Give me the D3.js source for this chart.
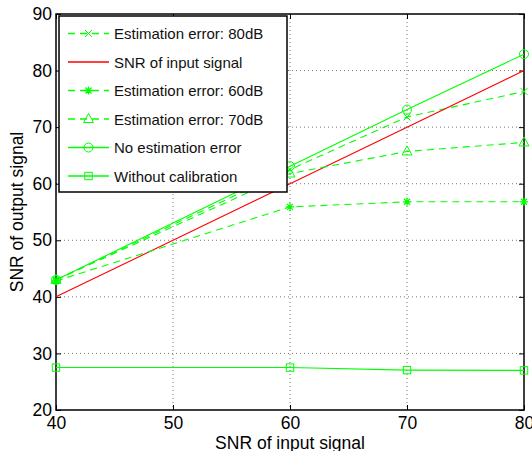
<!DOCTYPE html>
<html><head><meta charset="utf-8">
<script src="https://cdn.jsdelivr.net/npm/d3@7"></script>
<style>body{margin:0;background:#fff}svg{display:block}text{font-family:"Liberation Sans",Arial,sans-serif}</style>
</head><body><svg id="c" width="532" height="451"></svg>
<script>
const xValues = [40, 60, 70, 80];
const est80 = [43, 62.5, 71.8, 76.3];
const inputSNR = [40, 60, 70, 80];
const est60 = [42.8, 55.9, 56.8, 56.8];
const est70 = [43, 61.8, 65.7, 67.3];
const noErr = [43, 63.1, 73.1, 82.9];
const noCal = [27.5, 27.5, 27.05, 27.0];
const xTicks = [40, 50, 60, 70, 80];
const yTicks = [20, 30, 40, 50, 60, 70, 80, 90];
const seriesNames = ["Estimation error: 80dB","SNR of input signal","Estimation error: 60dB","Estimation error: 70dB","No estimation error","Without calibration"];

const series = [
  {name: seriesNames[0], values: est80, color: "#00ff00", dash: "7,5", marker: "x"},
  {name: seriesNames[1], values: inputSNR, color: "#ff0000", dash: null, marker: null},
  {name: seriesNames[2], values: est60, color: "#00ff00", dash: "7,5", marker: "star"},
  {name: seriesNames[3], values: est70, color: "#00ff00", dash: "7,5", marker: "tri"},
  {name: seriesNames[4], values: noErr, color: "#00ff00", dash: null, marker: "circle"},
  {name: seriesNames[5], values: noCal, color: "#00ff00", dash: null, marker: "square"}
];

const L = 56, R = 524, T = 14, B = 410;
const svg = d3.select("#c");
const x = d3.scaleLinear().domain([40, 80]).range([L, R]);
const y = d3.scaleLinear().domain([20, 90]).range([B, T]);

// grid
const g = svg.append("g");
g.selectAll(".gx").data(xTicks.slice(1, -1)).enter().append("line")
  .attr("x1", d => x(d)).attr("x2", d => x(d)).attr("y1", T).attr("y2", B)
  .attr("stroke", "#777").attr("stroke-width", 1).attr("stroke-dasharray", "1,3");
g.selectAll(".gy").data(yTicks.slice(1, -1)).enter().append("line")
  .attr("y1", d => y(d)).attr("y2", d => y(d)).attr("x1", L).attr("x2", R)
  .attr("stroke", "#777").attr("stroke-width", 1).attr("stroke-dasharray", "1,3");

// axes
const fs = "17.5px";
const xAxis = svg.append("g").attr("transform", `translate(0,${B})`)
  .call(d3.axisBottom(x).tickValues(xTicks).tickSize(-5).tickPadding(7).tickFormat(d3.format("d")));
const yAxis = svg.append("g").attr("transform", `translate(${L},0)`)
  .call(d3.axisLeft(y).tickValues(yTicks).tickSize(-5).tickPadding(4).tickFormat(d3.format("d")));
svg.append("g").attr("transform", `translate(0,${T})`)
  .call(d3.axisTop(x).tickValues(xTicks).tickSize(-5).tickFormat(""));
svg.append("g").attr("transform", `translate(${R},0)`)
  .call(d3.axisRight(y).tickValues(yTicks).tickSize(-5).tickFormat(""));
svg.selectAll(".domain").remove();
svg.selectAll(".tick line").attr("stroke", "#000").attr("stroke-width", 1);
svg.selectAll(".tick text").attr("font-size", fs).attr("fill", "#000").style("font-family", '"Liberation Sans",Arial,sans-serif');
xAxis.selectAll(".tick text").attr("dy", "0.71em");
svg.append("rect").attr("x", L).attr("y", T).attr("width", R - L).attr("height", B - T)
  .attr("fill", "none").attr("stroke", "#000").attr("stroke-width", 1.5);

// labels
svg.append("text").attr("x", (L + R) / 2).attr("y", 449).attr("text-anchor", "middle")
  .attr("font-size", "17.5px").text("SNR of input signal");
svg.append("text").attr("transform", `translate(23,${(T + B) / 2}) rotate(-90)`).attr("text-anchor", "middle")
  .attr("font-size", "17.5px").text("SNR of output signal");

function drawMarker(sel, type, cx, cy, color) {
  const s = sel.append("g").attr("transform", `translate(${cx},${cy})`)
    .attr("fill", "none").attr("stroke", color).attr("stroke-width", 1);
  if (type === "circle") s.append("circle").attr("r", 4.5);
  else if (type === "square") s.append("rect").attr("x", -3.7).attr("y", -3.7).attr("width", 7.4).attr("height", 7.4);
  else if (type === "tri") s.append("path").attr("d", "M0,-5.5L5,3.5L-5,3.5Z");
  else if (type === "x") s.append("path").attr("d", "M-3.5,-3.5L3.5,3.5M-3.5,3.5L3.5,-3.5");
  else if (type === "star") s.append("path").attr("d", "M-4,0L4,0M0,-4L0,4M-3,-3L3,3M-3,3L3,-3").attr("stroke-width", 1.3);
}

const line = d3.line().x((d, i) => x(xValues[i])).y(d => y(d));
const plot = svg.append("g");
series.forEach(s => {
  plot.append("path").datum(s.values).attr("d", line).attr("fill", "none")
    .attr("stroke", s.color).attr("stroke-width", 1.1)
    .attr("stroke-dasharray", s.dash);
  if (s.marker) s.values.forEach((v, i) => drawMarker(plot, s.marker, x(xValues[i]), y(v), s.color));
});

// legend
const lg = svg.append("g");
lg.append("rect").attr("x", 59).attr("y", 16).attr("width", 228).attr("height", 176)
  .attr("fill", "#fff").attr("stroke", "#000").attr("stroke-width", 1.5);
series.forEach((s, i) => {
  const yy = 33.5 + i * 28.5;
  lg.append("line").attr("x1", 68).attr("x2", 109).attr("y1", yy).attr("y2", yy)
    .style("stroke", s.color).attr("stroke-width", 1.6).attr("stroke-dasharray", s.dash ? "7,5" : null);
  if (s.marker) drawMarker(lg, s.marker, 88.5, yy, s.color);
  lg.append("text").attr("x", 114).attr("y", yy + 5.5).attr("font-size", "15px").attr("fill", "#111").text(s.name);
});
</script></body></html>
